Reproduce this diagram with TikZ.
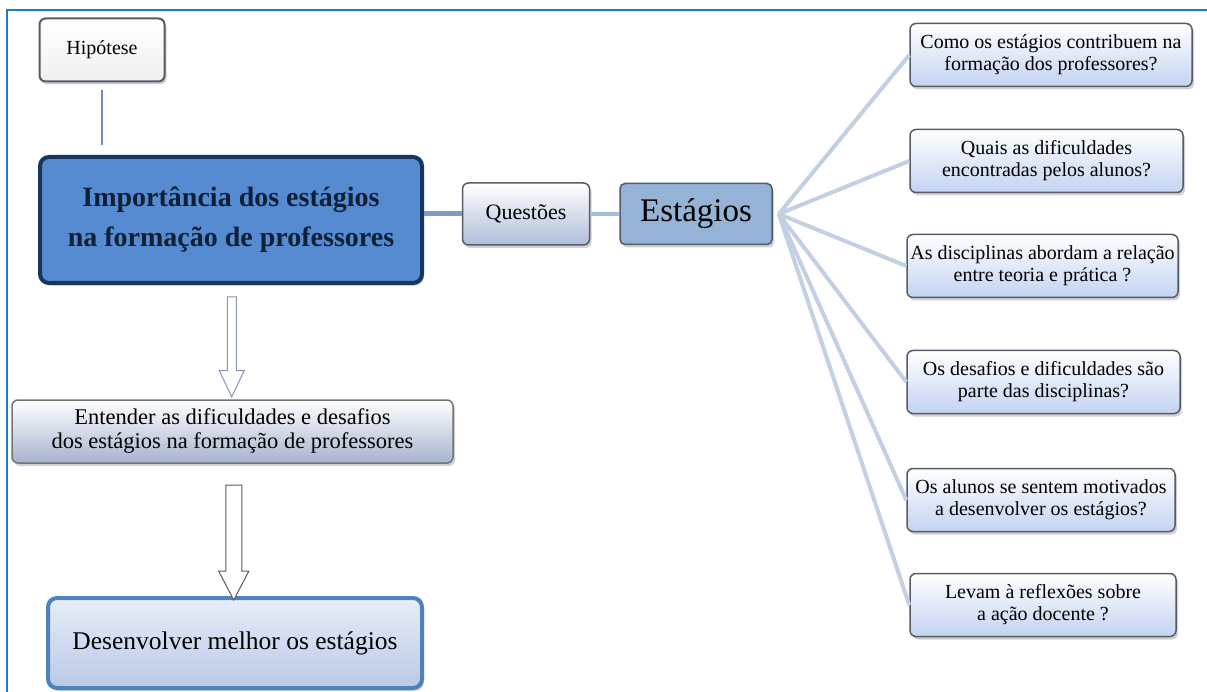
\documentclass[tikz,border=0pt]{standalone}
\usepackage{fontspec}
\setmainfont{Liberation Serif}
\usepackage{tikz}
\usetikzlibrary{shapes.geometric,shapes.arrows,calc,positioning,shadows}

\definecolor{framecol}{HTML}{1F78D1}
\definecolor{navy}{HTML}{17365D}
\definecolor{mainfill}{HTML}{568BD2}
\definecolor{estfill}{HTML}{95B3D7}
\definecolor{boxedge}{HTML}{555C68}
\definecolor{lightbot}{HTML}{C3D3F1}
\definecolor{fanline}{HTML}{C3CFE2}
\definecolor{hypline}{HTML}{6D8FC2}
\definecolor{mainline}{HTML}{7F9BC8}
\definecolor{qline}{HTML}{A9BCD9}
\definecolor{desedge}{HTML}{4F81BD}

\tikzset{
  every node/.style={align=center},
  softshadow/.style={drop shadow={shadow xshift=2pt,shadow yshift=-3pt,opacity=0.3,fill=black!60}},
  hypbox/.style={draw=boxedge,line width=2pt,rounded corners=6pt,top color=white,bottom color=black!6,
    minimum width=125pt,minimum height=63pt,softshadow,font=\fontsize{20}{22}\selectfont},
  mainbox/.style={draw=navy,line width=4pt,rounded corners=9pt,fill=mainfill,text=navy!60!black,
    minimum width=382pt,minimum height=126pt,softshadow,font=\fontsize{28}{40}\selectfont\bfseries},
  questbox/.style={draw=boxedge,line width=1.5pt,rounded corners=6pt,top color=white,bottom color=lightbot!90!black,
    minimum width=127pt,minimum height=62pt,softshadow,font=\fontsize{22}{24}\selectfont},
  estbox/.style={draw=boxedge,line width=1.5pt,rounded corners=5pt,fill=estfill,
    minimum width=152pt,minimum height=61pt,softshadow,font=\fontsize{33}{36}\selectfont},
  qbox/.style={draw=boxedge,line width=1.5pt,rounded corners=6pt,top color=white,bottom color=lightbot,
    minimum height=63pt,softshadow,font=\fontsize{20}{22}\selectfont},
  goalbox/.style={draw=black!55,line width=1.5pt,rounded corners=6pt,top color=white,bottom color=lightbot!85!black,
    minimum width=441pt,minimum height=63pt,softshadow,font=\fontsize{22.5}{24}\selectfont},
  resultbox/.style={draw=desedge,line width=4pt,rounded corners=9pt,top color=lightbot!40,bottom color=lightbot!95!black,
    minimum width=374pt,minimum height=90pt,softshadow,font=\fontsize{25.5}{28}\selectfont},
  openarrow/.style={single arrow,draw,line width=1pt,fill=white,rotate=-90,minimum height=#1},
  fan/.style={draw=fanline,line width=4pt}
}

\begin{document}
\begin{tikzpicture}[x=1pt,y=-1pt]
\useasboundingbox (0,0) rectangle (1207,692);
\draw[framecol,line width=2pt] (7,692) -- (7,10) -- (1207,10);

% left column
\node (hyp) [hypbox] at (102,50) {Hip\'otese};
\node (main) [mainbox] at (231,220) {Import\^ancia dos est\'agios\\na forma\c{c}\~ao de professores};
\node (ent) [goalbox] at (232.5,431.5) {Entender as dificuldades e desafios\\dos est\'agios na forma\c{c}\~ao de professores};
\node (des) [resultbox] at (235,643) {Desenvolver melhor os est\'agios};

\node (arrA) [openarrow=100pt,draw=qline!80!black,inner sep=4pt,single arrow head extend=8pt,single arrow tip angle=51]
  at ($(main.south)!0.5!(ent.north)$) {};
\node (arrB) [openarrow=115pt,draw=black!65,inner sep=7.5pt,single arrow head extend=7pt,single arrow tip angle=55]
  at ($(ent.south)!0.5!(des.north)+(0,5)$) {};

% centre
\node (quest) [questbox] at (526,214) {Quest\~oes};
\node (est) [estbox] at (696,214) {Est\'agios};

% questions
\node (q1) [qbox,minimum width=282pt] at (1051,55) {Como os est\'agios contribuem na\\forma\c{c}\~ao dos professores?};
\node (q2) [qbox,minimum width=273pt] at (1046.5,161) {Quais as dificuldades\\encontradas pelos alunos?};
\node (q3) [qbox,minimum width=265pt] at (1042.5,266) {As disciplinas abordam a rela\c{c}\~ao\\entre teoria e pr\'atica ?};
\node (q4) [qbox,minimum width=273pt] at (1043.5,382) {Os desafios e dificuldades s\~ao\\parte das disciplinas?};
\node (q5) [qbox,minimum width=268pt] at (1041,500) {Os alunos se sentem motivados\\a desenvolver os est\'agios?};
\node (q6) [qbox,minimum width=266pt] at (1043,605) {Levam \`a reflex\~oes sobre\\a a\c{c}\~ao docente ?};

% connectors
\draw[hypline,line width=2.5pt,shorten <=8pt,shorten >=10pt] (hyp.south) -- (hyp.south |- main.north);
\draw[mainline,line width=5pt] (main.east |- quest.west) -- (quest.west);
\draw[qline,line width=4pt] (quest.east) -- (est.west);
\foreach \q in {q1,q2,q3,q4,q5,q6}
  \draw[fan] ($(est.east)+(6,0)$) -- (\q.west);
\end{tikzpicture}
\end{document}
